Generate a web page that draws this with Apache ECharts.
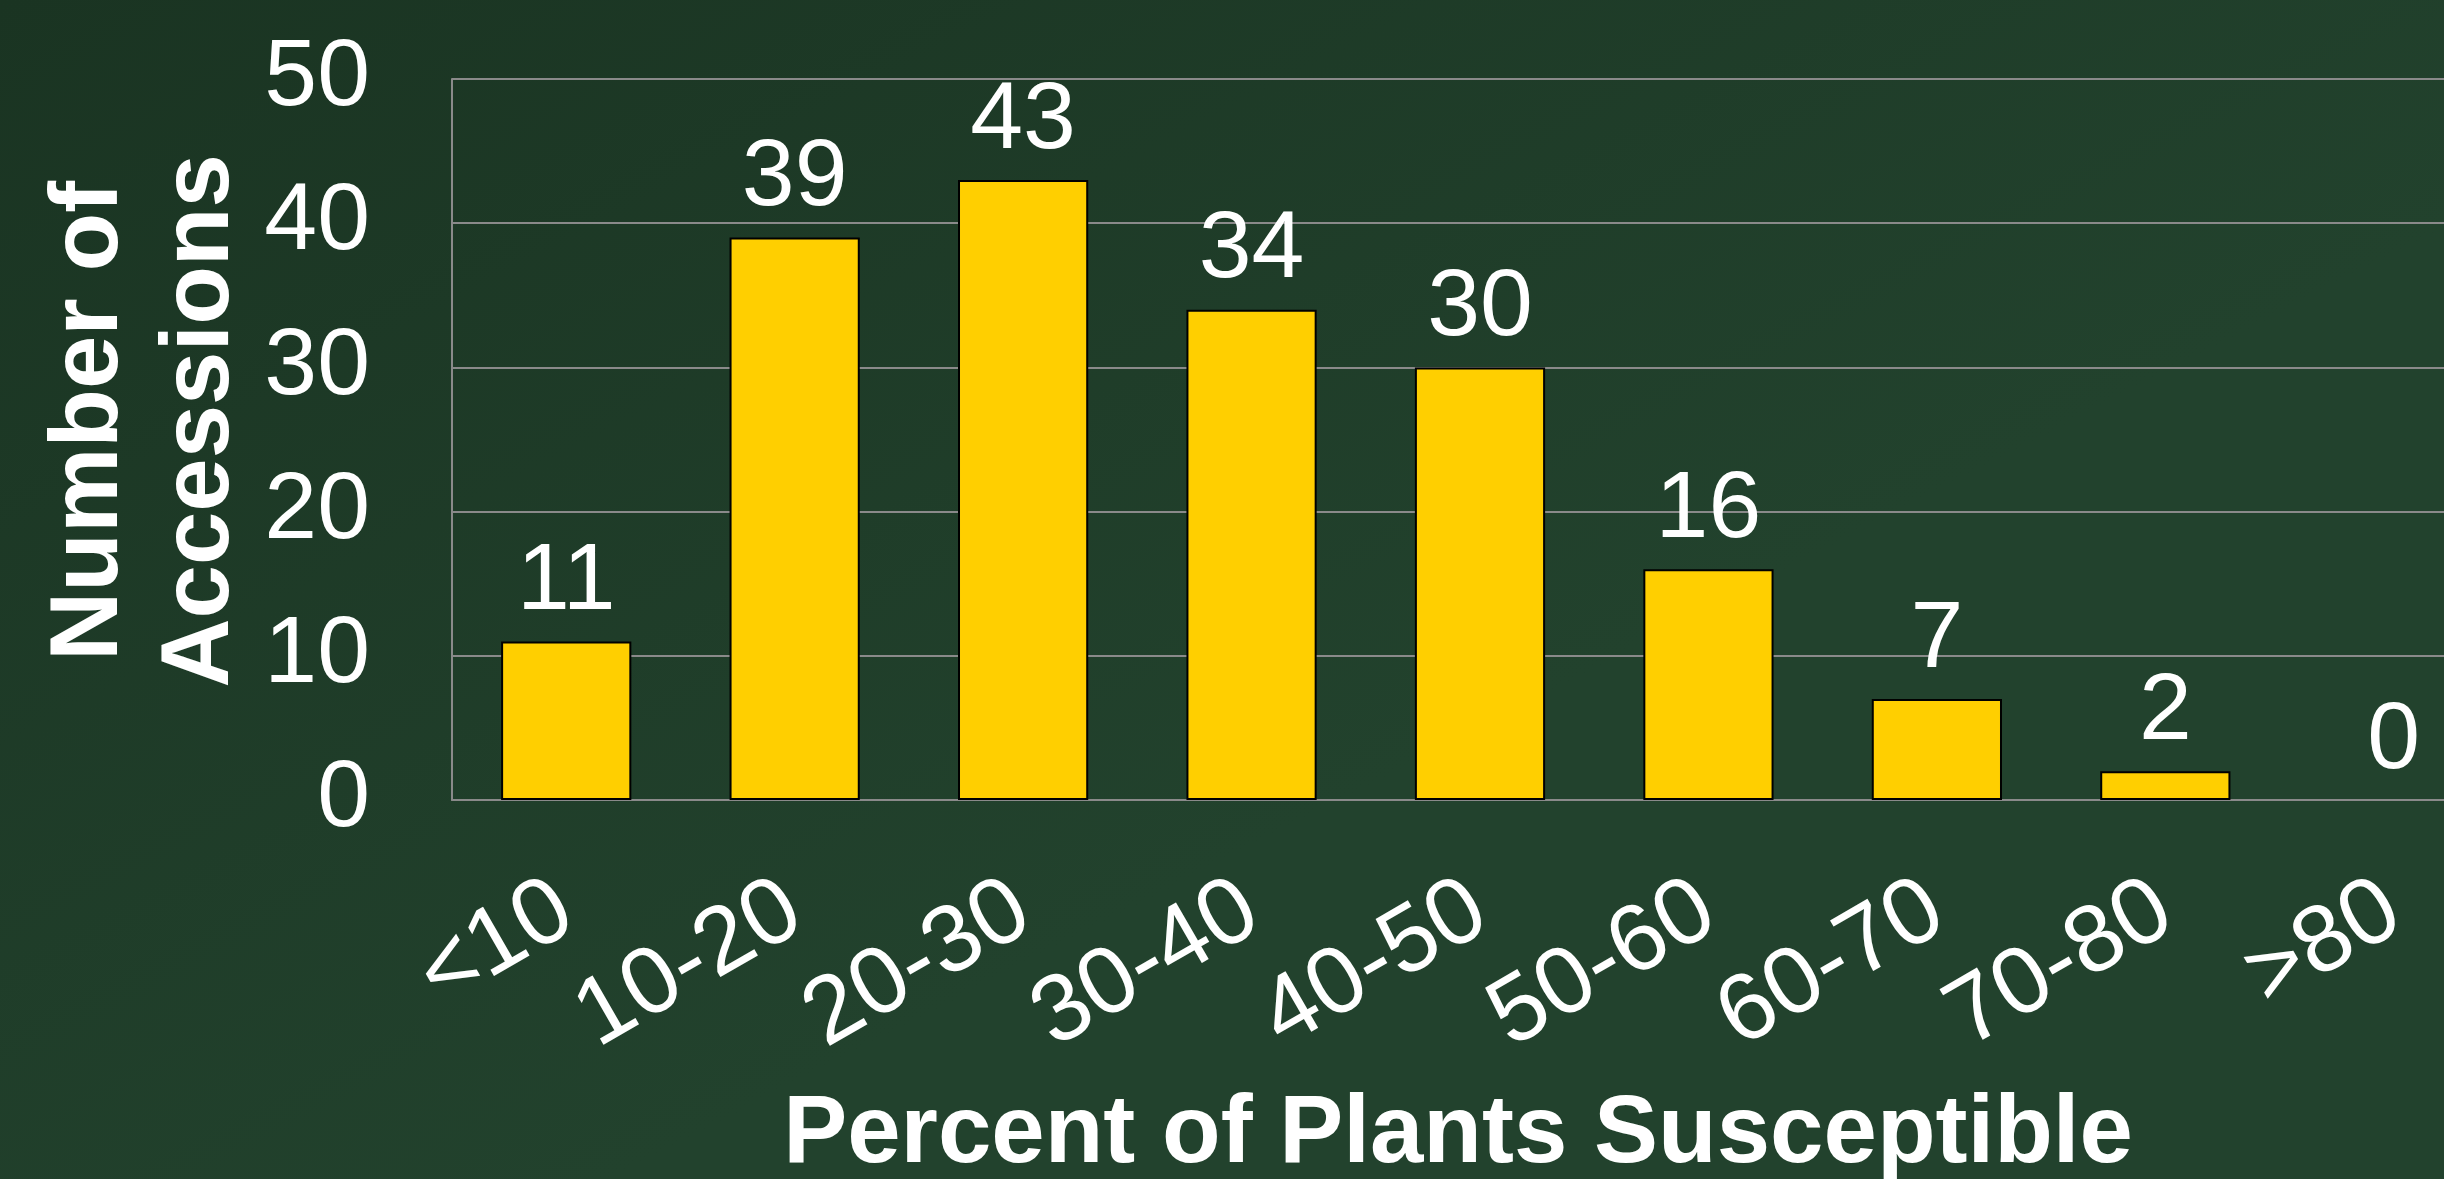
<!DOCTYPE html>
<html>
<head>
<meta charset="utf-8">
<script src="https://cdn.jsdelivr.net/npm/echarts@6/dist/echarts.min.js"></script>
<style>
  html, body { margin: 0; padding: 0; width: 100%; height: 100%; overflow: hidden; }
  #chart { width: 2444px; height: 1179px; }
</style>
</head>
<body>
<div id="chart"></div>
<script>
// Accession counts binned by percent of susceptible plants
const categories = ['<10', '10-20', '20-30', '30-40', '40-50', '50-60', '60-70', '70-80', '>80'];
const accessions = [11, 39, 43, 34, 30, 16, 7, 2, 0];
const yTicks = { min: 0, max: 50, interval: 10 };

const FONT = '"Liberation Sans", Arial, sans-serif';

const chart = echarts.init(document.getElementById('chart'), null, { renderer: 'canvas' });

// Empty bins get no outline so nothing is drawn on the baseline
const barData = accessions.map(v => (v === 0 ? { value: v, itemStyle: { borderWidth: 0 } } : v));

chart.setOption({
  animation: false,
  backgroundColor: {
    type: 'linear', x: 0, y: 0, x2: 0.25, y2: 1,
    colorStops: [
      { offset: 0, color: '#1a3422' },
      { offset: 1, color: '#22422d' }
    ]
  },
  grid: {
    left: 452, top: 79, width: 2056, height: 721,
    containLabel: false,
    outerBoundsMode: 'none'
  },
  xAxis: {
    type: 'category',
    data: categories,
    axisLine: { show: true, lineStyle: { color: '#8a8a8a', width: 2 } },
    axisTick: { show: false },
    axisLabel: {
      interval: 0,
      rotate: 30,
      margin: 104,
      color: '#ffffff',
      fontFamily: FONT,
      fontSize: 95
    }
  },
  yAxis: {
    type: 'value',
    min: yTicks.min, max: yTicks.max, interval: yTicks.interval,
    axisLine: { show: true, lineStyle: { color: '#8a8a8a', width: 2 } },
    axisTick: { show: false },
    splitLine: { show: true, lineStyle: { color: '#8a8a8a', width: 2 } },
    axisLabel: {
      margin: 82,
      color: '#ffffff',
      fontFamily: FONT,
      fontSize: 95
    }
  },
  series: [{
    type: 'bar',
    data: barData,
    barCategoryGap: '43%',
    itemStyle: { color: '#ffcf00', borderColor: '#000000', borderWidth: 2 },
    label: {
      show: true,
      position: 'top',
      distance: 11,
      color: '#ffffff',
      fontFamily: FONT,
      fontSize: 95
    }
  }],
  graphic: [
    {
      type: 'text',
      x: 146, y: 421,
      rotation: Math.PI / 2,
      style: {
        text: 'Number of\nAccessions',
        fill: '#ffffff',
        font: 'bold 96px ' + FONT,
        lineHeight: 111,
        align: 'center',
        verticalAlign: 'middle'
      }
    },
    {
      type: 'text',
      x: 1458, y: 1136,
      style: {
        text: 'Percent of Plants Susceptible',
        fill: '#ffffff',
        font: 'bold 96px ' + FONT,
        align: 'center',
        verticalAlign: 'middle'
      }
    }
  ]
});
</script>
</body>
</html>
